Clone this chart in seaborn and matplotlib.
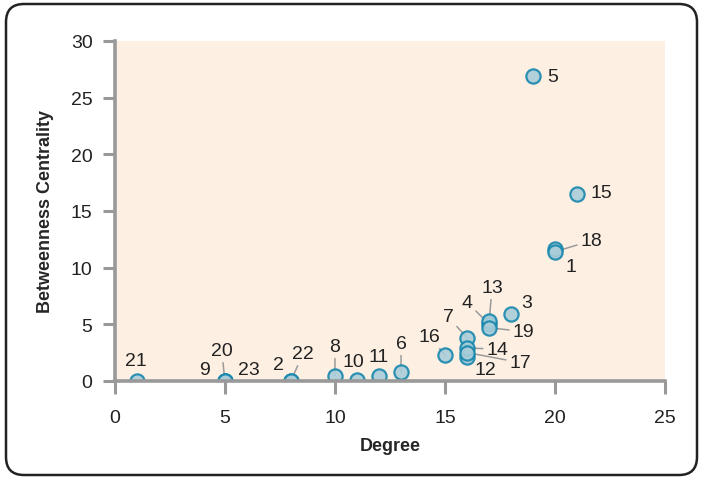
import numpy as np
import pandas as pd
import matplotlib.pyplot as plt
import seaborn as sns
from matplotlib.patches import FancyBboxPatch

# node data
nodes = ['1', '2', '3', '4', '5', '6', '7', '8', '9', '10', '11', '12',
         '13', '14', '15', '16', '17', '18', '19', '20', '21', '22', '23']
degree = [20, 8, 18, 17, 19, 13, 16, 10, 5, 11, 12, 16,
          17, 16, 21, 15, 16, 20, 17, 5, 1, 8, 5]
betweenness = [11.6, 0.0, 5.9, 5.0, 26.9, 0.8, 3.8, 0.45, 0.0, 0.05, 0.45, 2.1,
               5.3, 2.9, 16.5, 2.3, 2.5, 11.4, 4.7, 0.0, 0.0, 0.0, 0.0]

# label offsets in pixels (dx, dy) and whether a leader line is drawn
label_dx = [16, -12, 16, -22, 20, 0, -19, 0, -20, -4, 0, 18,
            3, 30, 24, -16, 53, 36, 34, -3, -1, 12, 24]
label_dy = [-17, 16, 12, 22, -1, 28, 21, 29, 11, 19, 19, -12,
            33, -1, 1, 18, -10, 11, -4, 30, 20, 27, 11]
leader = [False, False, False, True, False, True, True, True, False, False, False, False,
          True, True, False, True, True, True, True, True, False, True, False]

df = pd.DataFrame({'node': nodes, 'Degree': degree, 'Betweenness Centrality': betweenness})

sns.set_theme(style='white')
plt.rcParams['font.family'] = ['Liberation Sans', 'DejaVu Sans']

fig = plt.figure(figsize=(7.04, 4.81), dpi=100)
ax = fig.add_axes([0.163, 0.206, 0.782, 0.707])
ax.set_facecolor('#fdf0e3')

sns.scatterplot(data=df, x='Degree', y='Betweenness Centrality', ax=ax,
                s=105, color='#a9cdd9', edgecolor='#1787ad', linewidth=1.6,
                alpha=0.9, zorder=3)

for i, n in enumerate(nodes):
    props = None
    if leader[i]:
        props = dict(arrowstyle='-', color='#9a9a9a', lw=1.1, shrinkA=0, shrinkB=0)
    ax.annotate(n, (degree[i], betweenness[i]),
                xytext=(label_dx[i], label_dy[i]), textcoords='offset pixels',
                ha='center', va='center', fontsize=14, color='#222222',
                arrowprops=props, zorder=2)

ax.set_xlim(0, 25)
ax.set_ylim(0, 30)
ax.set_xticks(np.arange(0, 26, 5))
ax.set_yticks(np.arange(0, 31, 5))

for side in ['top', 'right']:
    ax.spines[side].set_visible(False)
for side in ['left', 'bottom']:
    ax.spines[side].set_color('#999999')
    ax.spines[side].set_linewidth(2.6)
    ax.spines[side].set_zorder(4)

ax.tick_params(axis='both', direction='out', length=9, width=2.2, color='#999999',
               labelsize=14, labelcolor='#222222', pad=7,
               left=True, bottom=True)
ax.tick_params(axis='x', pad=11)

ax.set_xlabel('Degree', fontsize=13, fontweight='bold', labelpad=8)
ax.set_ylabel('Betweenness Centrality', fontsize=13, fontweight='bold', labelpad=12)

# rounded frame around the whole figure
frame = FancyBboxPatch((6, 5), 691, 471, boxstyle='round,pad=0,rounding_size=18',
                       transform=None, facecolor='none', edgecolor='#222222', linewidth=1.8)
fig.patches.append(frame)

fig.savefig('out.png', dpi=100)
